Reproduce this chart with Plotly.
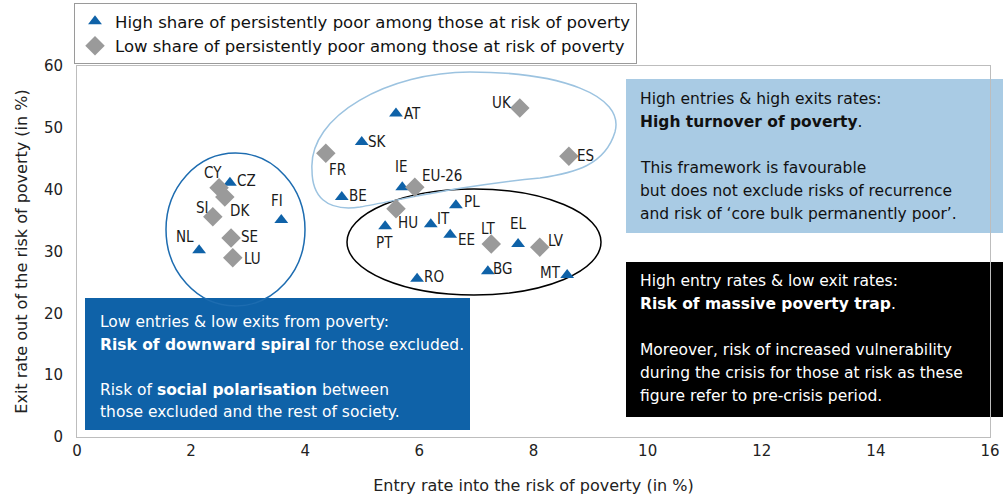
import plotly.graph_objects as go

# ---------------- data ----------------
high_countries = ["AT", "SK", "BE", "IE", "CZ", "FI", "NL", "PL", "PT", "IT", "EE", "EL", "BG", "RO", "MT"]
high_entry = [5.59, 4.99, 4.64, 5.70, 2.68, 3.58, 2.14, 6.64, 5.40, 6.20, 6.54, 7.73, 7.20, 5.96, 8.59]
high_exit = [52.3, 47.7, 38.8, 40.4, 41.1, 35.1, 30.2, 37.5, 34.1, 34.4, 32.7, 31.2, 26.8, 25.6, 26.2]

low_countries = ["UK", "ES", "FR", "EU-26", "HU", "LT", "LV", "CY", "DK", "SI", "SE", "LU"]
low_entry = [7.76, 8.62, 4.36, 5.92, 5.59, 7.26, 8.11, 2.49, 2.59, 2.38, 2.70, 2.73]
low_exit = [53.2, 45.4, 45.9, 40.4, 36.9, 31.2, 30.7, 40.3, 38.8, 35.6, 32.2, 29.0]

series_names = ["High share of persistently poor among those at risk of poverty",
                "Low share of persistently poor among those at risk of poverty"]

x_ticks = [0, 2, 4, 6, 8, 10, 12, 14, 16]
y_ticks = [0, 10, 20, 30, 40, 50, 60]
x_title = "Entry rate into the risk of poverty (in %)"
y_title = "Exit rate out of the risk of poverty (in %)"

blue_box_lines = ["High entries & high exits rates:",
                  "<b>High turnover of poverty</b>.",
                  "",
                  "This framework is favourable",
                  "but does not exclude risks of recurrence",
                  "and risk of ‘core bulk permanently poor’."]
black_box_lines = ["High entry rates & low exit rates:",
                   "<b>Risk of massive poverty trap</b>.",
                   "",
                   "Moreover, risk of increased vulnerability",
                   "during the crisis for those at risk as these",
                   "figure refer to pre-crisis period."]
dark_box_lines = ["Low entries & low exits from poverty:",
                  "<b>Risk of downward spiral</b> for those excluded.",
                  "",
                  "Risk of <b>social polarisation</b> between",
                  "those excluded and the rest of society."]

# ---------------- styles ----------------
W, H = 1003, 497
L, R, T, B = 77, 13, 66, 60
PW, PH = W - L - R, H - T - B

BLUE = "#0f62a8"
GREY = "#9a9a9a"
LIGHT = "#a9cbe4"
FONT = "DejaVu Sans, Noto Sans, sans-serif"
NARROW = "Liberation Sans Narrow, DejaVu Sans Condensed, sans-serif"

# label offsets (pixels, dx right, dy down) relative to the marker
label_off = {
    "AT": (17, 0), "SK": (16, 0), "BE": (16, -1), "IE": (-1, -20), "CZ": (17, -2),
    "FI": (-4, -19), "NL": (-14, -13), "PL": (16, -3), "PT": (-1, 17), "IT": (13, -5),
    "EE": (16, 5), "EL": (0, -20), "BG": (15, -2), "RO": (17, -2), "MT": (-17, -2),
    "UK": (-18, -5), "ES": (17, 0), "FR": (12, 17), "EU-26": (27, -11), "HU": (12, 14),
    "LT": (-3, -15), "LV": (16, -6), "CY": (-6, -15), "DK": (15, 14), "SI": (-10, -9),
    "SE": (18, -1), "LU": (20, 1),
}


def px_x(px):
    return (px - L) / PW


def px_y(py):
    return (H - B - py) / PH


def dx(px):
    return (px - L) / PW * 16


def dy(py):
    return (H - B - py) / PH * 60


fig = go.Figure()
fig.add_trace(go.Scatter(
    x=high_entry, y=high_exit, mode="markers", name=series_names[0],
    marker=dict(symbol="triangle-up", size=12, color=BLUE, line=dict(width=0)),
    hoverinfo="skip"))
fig.add_trace(go.Scatter(
    x=low_entry, y=low_exit, mode="markers", name=series_names[1],
    marker=dict(symbol="diamond", size=15, color=GREY, line=dict(width=0)),
    hoverinfo="skip"))

annotations = []
for names, xs, ys in [(high_countries, high_entry, high_exit), (low_countries, low_entry, low_exit)]:
    for n, xv, yv in zip(names, xs, ys):
        ox, oy = label_off[n]
        annotations.append(dict(
            x=xv, y=yv, xref="x", yref="y", text=n, showarrow=False,
            xanchor="center", yanchor="middle", xshift=ox, yshift=-oy,
            font=dict(family=NARROW, size=15, color="#1a1a1a")))

shapes = []
boxes = [
    (626, 79, 1003, 233, LIGHT),
    (626, 262, 1003, 417, "#000000"),
    (85, 298, 470, 430, BLUE),
]
for x0, y0, x1, y1, c in boxes:
    shapes.append(dict(type="rect", xref="paper", yref="paper",
                       x0=px_x(x0), x1=px_x(x1), y0=px_y(y1), y1=px_y(y0),
                       fillcolor=c, line=dict(width=0), layer="below"))

shapes.append(dict(type="circle", xref="x", yref="y",
                   x0=dx(166), x1=dx(305), y0=dy(306), y1=dy(153),
                   line=dict(color="#1d6cb0", width=1.5), layer="below"))
shapes.append(dict(type="circle", xref="x", yref="y",
                   x0=dx(347), x1=dx(601), y0=dy(295), y1=dy(189),
                   line=dict(color="#000000", width=1.5), layer="below"))
blob_px = [
    ("M", [(312, 170)]),
    ("C", [(308, 115), (390, 72), (470, 72)]),
    ("C", [(560, 72), (625, 95), (615, 132)]),
    ("C", [(605, 165), (575, 173), (540, 178)]),
    ("C", [(470, 184), (400, 200), (360, 207)]),
    ("C", [(325, 212), (312, 195), (312, 170)]),
]
path = ""
for cmd, pts in blob_px:
    path += cmd + " " + " ".join(f"{dx(a):.4f},{dy(b):.4f}" for a, b in pts) + " "
path += "Z"
shapes.append(dict(type="path", xref="x", yref="y", path=path,
                   line=dict(color="#9cc3e0", width=1.5), layer="below"))


def add_lines(lines, x_px, y0_px, step, color):
    for i, t in enumerate(lines):
        if not t:
            continue
        annotations.append(dict(
            x=px_x(x_px), y=px_y(y0_px + i * step), xref="paper", yref="paper",
            text=t, showarrow=False, xanchor="left", yanchor="middle",
            font=dict(family=FONT, size=15.5, color=color)))


add_lines(blue_box_lines, 638, 99, 23, "#111111")
add_lines(black_box_lines, 638, 281, 23, "#ffffff")
add_lines(dark_box_lines, 98, 322, 22.5, "#ffffff")

fig.update_layout(
    width=W, height=H,
    margin=dict(l=L, r=R, t=T, b=B, autoexpand=False),
    paper_bgcolor="white", plot_bgcolor="white",
    shapes=shapes, annotations=annotations,
    showlegend=True,
    legend=dict(x=px_x(74), y=px_y(3), xanchor="left", yanchor="top",
                bgcolor="white", bordercolor="#9a9a9a", borderwidth=1,
                font=dict(family=FONT, size=16.5, color="#111111"),
                itemwidth=30, tracegroupgap=0),
    font=dict(family=FONT, size=15, color="#222222"),
)
fig.update_xaxes(range=[0, 16], tickvals=x_ticks, ticktext=[str(v) for v in x_ticks],
                 showgrid=False, zeroline=False, showline=True, mirror=True, automargin=False,
                 linecolor="#bdbdbd", linewidth=1, ticks="", ticklabelstandoff=0,
                 tickfont=dict(family=FONT, size=15, color="#222222"),
                 title=dict(text=x_title, font=dict(family=FONT, size=16, color="#222222"), standoff=20))
fig.update_yaxes(range=[0, 60], tickvals=y_ticks, ticktext=[str(v) for v in y_ticks],
                 showgrid=False, zeroline=False, showline=True, mirror=True, automargin=False,
                 linecolor="#bdbdbd", linewidth=1, ticks="", ticklabelstandoff=10,
                 tickfont=dict(family=FONT, size=15, color="#222222"),
                 title=dict(text=y_title, font=dict(family=FONT, size=16, color="#222222"), standoff=12))

fig.write_html("out.html", config={"displayModeBar": False},
               post_script="document.body.style.margin='0px';")
